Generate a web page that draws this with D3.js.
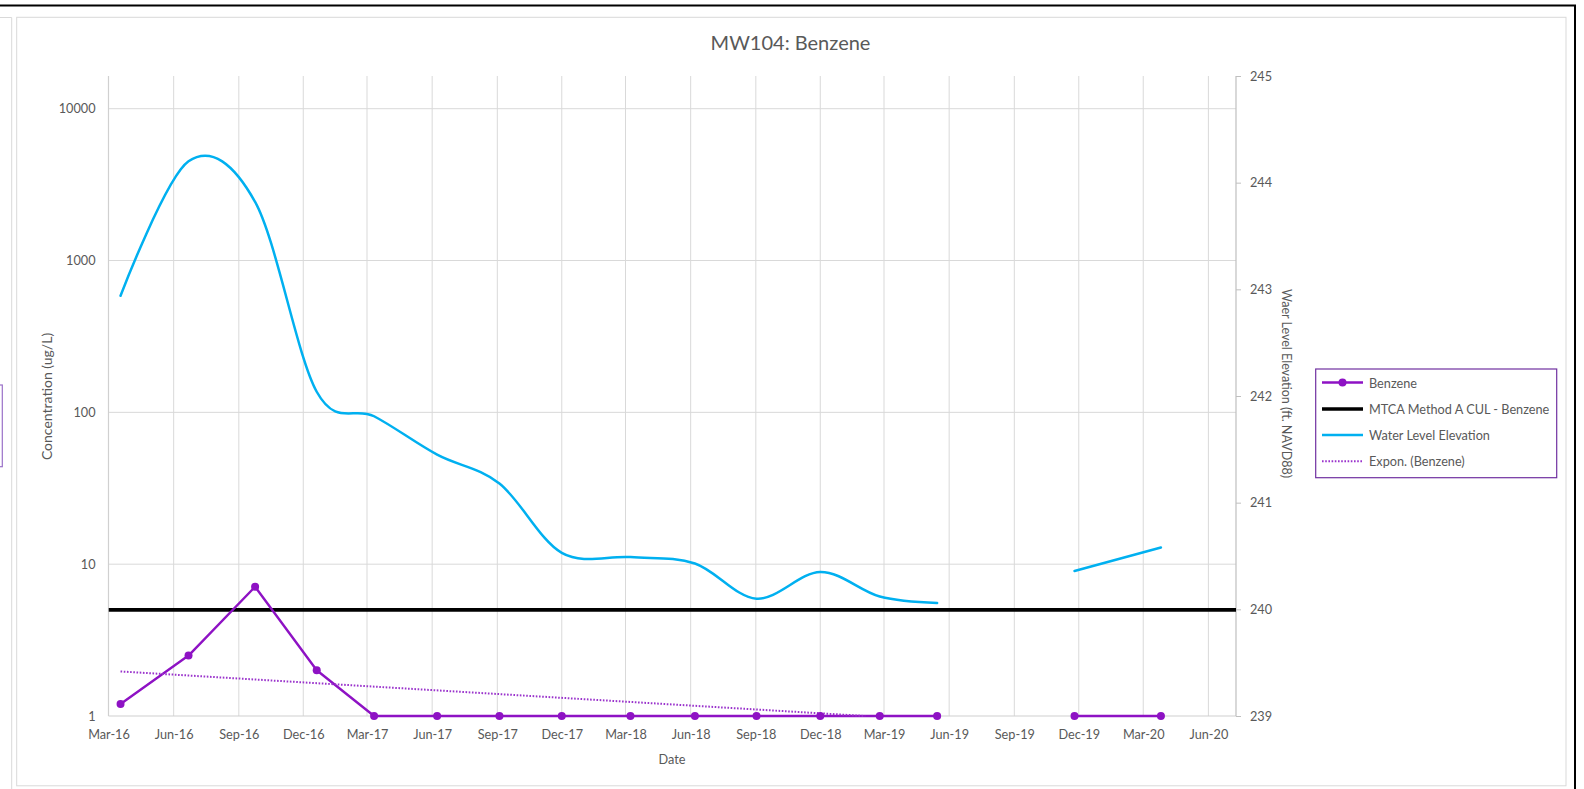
<!DOCTYPE html>
<html>
<head>
<meta charset="utf-8">
<script src="https://cdn.jsdelivr.net/npm/d3@7"></script>
<style>
  html, body { margin: 0; padding: 0; background: #fff; }
  svg { display: block; font-family: Lato, "Open Sans", sans-serif; }
</style>
</head>
<body>
<svg id="chart" width="1584" height="789"></svg>
<script>
// Monitoring well MW104 sampling events (null = no result for that event)
const sampleDates = ["2016-03-18", "2016-06-22", "2016-09-24", "2016-12-20", "2017-03-11",
  "2017-06-08", "2017-09-04", "2017-12-01", "2018-03-08", "2018-06-07", "2018-09-02",
  "2018-12-01", "2019-02-23", "2019-05-15", "2019-08-20", "2019-11-25", "2020-03-26"];
const benzene = [1.2, 2.5, 7.1, 2.0, 1, 1, 1, 1, 1, 1, 1, 1, 1, 1, null, 1, 1];
const waterLevel = [242.94, 244.2, 243.82, 242.04, 241.81, 241.45, 241.18, 240.53, 240.49,
  240.43, 240.10, 240.35, 240.12, 240.06, null, 240.36, 240.58];
const mtcaCul = 5;
const concTicks = [1, 10, 100, 1000, 10000];
const elevTicks = [239, 240, 241, 242, 243, 244, 245];
const seriesNames = ["Benzene", "MTCA Method A CUL - Benzene", "Water Level Elevation", "Expon. (Benzene)"];
const chartTitle = "MW104: Benzene";

const parse = d3.timeParse("%Y-%m-%d");
const rows = sampleDates.map((d, i) => ({ date: parse(d), b: benzene[i], w: waterLevel[i] }));

const C = {
  benzene: "#8e12c4",
  trend: "#9a33cc",
  water: "#00b0f0",
  cul: "#000000",
  grid: "#d9d9d9",
  text: "#595959",
  legendBorder: "#7030a0"
};
const FS = 12.7;

const svg = d3.select("#chart");
const plot = { left: 108.5, right: 1236, top: 76, bottom: 716 };

// outer frames
svg.append("line").attr("x1", 0).attr("x2", 1576).attr("y1", 5.5).attr("y2", 5.5)
  .attr("stroke", "#000").attr("stroke-width", 1.8);
svg.append("line").attr("x1", 1575).attr("x2", 1575).attr("y1", 5).attr("y2", 789)
  .attr("stroke", "#000").attr("stroke-width", 2);
svg.append("path").attr("d", "M0,17.5H11.7V789").attr("fill", "none")
  .attr("stroke", "#d9d9d9").attr("stroke-width", 1);
svg.append("rect").attr("x", -10).attr("y", 385).attr("width", 12.3).attr("height", 81.7)
  .attr("fill", "none").attr("stroke", "#9a70c8").attr("stroke-width", 1.2);
svg.append("rect").attr("x", 16.7).attr("y", 17.3).attr("width", 1549.3).attr("height", 768.5)
  .attr("fill", "#fff").attr("stroke", "#d9d9d9").attr("stroke-width", 1);

// scales
const x = d3.scaleTime()
  .domain([new Date(2016, 2, 1), new Date(2020, 6, 10)])
  .range([plot.left, plot.right]);
const yL = d3.scaleLog().domain([1, 10000]).range([plot.bottom, 108.7]);
const yR = d3.scaleLinear().domain([239, 245]).range([plot.bottom, plot.top]);

const quarterTicks = d3.timeMonths(new Date(2016, 2, 1), new Date(2020, 5, 2), 3);

// gridlines
const grid = svg.append("g");
grid.selectAll(".vg").data(quarterTicks.slice(1)).join("line")
  .attr("x1", d => x(d)).attr("x2", d => x(d))
  .attr("y1", plot.top).attr("y2", plot.bottom)
  .attr("stroke", C.grid).attr("stroke-width", 1);
grid.selectAll(".hg").data(concTicks.slice(1)).join("line")
  .attr("x1", plot.left).attr("x2", plot.right)
  .attr("y1", d => yL(d)).attr("y2", d => yL(d))
  .attr("stroke", C.grid).attr("stroke-width", 1);

// axis lines
svg.append("line").attr("x1", plot.left).attr("x2", plot.left)
  .attr("y1", plot.top).attr("y2", plot.bottom).attr("stroke", "#d0d0d0").attr("stroke-width", 1.2);
svg.append("line").attr("x1", plot.left).attr("x2", plot.right)
  .attr("y1", plot.bottom).attr("y2", plot.bottom).attr("stroke", "#d0d0d0").attr("stroke-width", 1.2);

// axes
const styleAxis = g => {
  g.select(".domain").remove();
  g.selectAll("text").attr("fill", C.text).attr("font-size", FS)
    .attr("font-family", "Lato, 'Open Sans', sans-serif");
};
svg.append("g").attr("transform", `translate(0,${plot.bottom})`)
  .call(d3.axisBottom(x).tickValues(quarterTicks).tickFormat(d3.timeFormat("%b-%y"))
    .tickSize(0).tickPadding(13.5))
  .call(styleAxis);
svg.append("g").attr("transform", `translate(${plot.left},0)`)
  .call(d3.axisLeft(yL).tickValues(concTicks).tickFormat(d3.format("d"))
    .tickSize(0).tickPadding(13))
  .call(styleAxis);
const rAxis = svg.append("g").attr("transform", `translate(${plot.right},0)`)
  .call(d3.axisRight(yR).tickValues(elevTicks).tickFormat(d3.format("d"))
    .tickSize(5).tickPadding(9))
  .call(styleAxis);
rAxis.selectAll(".tick line").attr("stroke", "#bfbfbf");
svg.append("line").attr("x1", plot.right).attr("x2", plot.right)
  .attr("y1", plot.top).attr("y2", plot.bottom).attr("stroke", "#bfbfbf").attr("stroke-width", 1.2);

// clip to plotting area (a little slack below so lines lying on the axis stay whole)
svg.append("clipPath").attr("id", "plotClip").append("rect")
  .attr("x", plot.left).attr("y", plot.top)
  .attr("width", plot.right - plot.left + 6).attr("height", plot.bottom - plot.top + 6);
const marks = svg.append("g").attr("clip-path", "url(#plotClip)");

// cleanup level
marks.append("line")
  .attr("x1", plot.left).attr("x2", plot.right)
  .attr("y1", yL(mtcaCul)).attr("y2", yL(mtcaCul))
  .attr("stroke", C.cul).attr("stroke-width", 3.6);

// exponential trendline of benzene (least squares on ln y), stopped at the axis minimum
const bRows = rows.filter(d => d.b != null);
const t0 = bRows[0].date;
const days = d => (d - t0) / 864e5;
const xs = bRows.map(d => days(d.date));
const ls = bRows.map(d => Math.log(d.b));
const mx = d3.mean(xs), ml = d3.mean(ls);
const slope = d3.sum(xs, (v, i) => (v - mx) * (ls[i] - ml)) / d3.sum(xs, v => (v - mx) ** 2);
const icpt = ml - slope * mx;
const lastDay = days(bRows[bRows.length - 1].date);
const endDay = slope < 0 ? Math.min(lastDay, -icpt / slope) : lastDay;
const trendPts = [0, endDay].map(dd => ({
  date: new Date(+t0 + dd * 864e5), v: Math.exp(icpt + slope * dd)
}));

// benzene concentrations
marks.append("path")
  .datum(rows)
  .attr("d", d3.line().defined(d => d.b != null).x(d => x(d.date)).y(d => yL(d.b)))
  .attr("fill", "none").attr("stroke", C.benzene).attr("stroke-width", 2.4)
  .attr("stroke-linejoin", "round");

marks.append("path")
  .datum(trendPts)
  .attr("d", d3.line().x(d => x(d.date)).y(d => yL(d.v)))
  .attr("fill", "none").attr("stroke", C.trend).attr("stroke-width", 2)
  .attr("stroke-dasharray", "1.6 1.6");

marks.selectAll(".bpt").data(bRows).join("circle")
  .attr("cx", d => x(d.date)).attr("cy", d => yL(d.b)).attr("r", 4)
  .attr("fill", C.benzene);

// water level elevation (secondary axis)
marks.append("path")
  .datum(rows)
  .attr("d", d3.line().defined(d => d.w != null).x(d => x(d.date)).y(d => yR(d.w))
    .curve(d3.curveCardinal.tension(0)))
  .attr("fill", "none").attr("stroke", C.water).attr("stroke-width", 2.5)
  .attr("stroke-linejoin", "round").attr("stroke-linecap", "round");

// titles
svg.append("text").attr("x", 790.5).attr("y", 50).attr("text-anchor", "middle")
  .attr("font-size", 20).attr("fill", C.text).text(chartTitle);
svg.append("text").attr("x", 672).attr("y", 759).attr("text-anchor", "middle")
  .attr("dominant-baseline", "central").attr("font-size", FS).attr("fill", C.text).text("Date");
svg.append("text").attr("transform", "translate(46.7,396.5) rotate(-90)")
  .attr("text-anchor", "middle").attr("dominant-baseline", "central")
  .attr("font-size", 14).attr("fill", C.text).text("Concentration (ug/L)");
svg.append("text").attr("transform", "translate(1286,383.5) rotate(90)")
  .attr("text-anchor", "middle").attr("dominant-baseline", "central")
  .attr("font-size", 12.5).attr("fill", C.text).text("Waer Level Elevation (ft. NAVD88)");

// legend
const lg = svg.append("g");
lg.append("rect").attr("x", 1315.7).attr("y", 369).attr("width", 241).attr("height", 108.7)
  .attr("fill", "#fff").attr("stroke", C.legendBorder).attr("stroke-width", 1.2);
const legendY = [382.5, 409, 435, 461.3];
const legendStyle = [
  { stroke: C.benzene, w: 2.4, dash: null, dot: true },
  { stroke: C.cul, w: 3.6, dash: null, dot: false },
  { stroke: C.water, w: 2.5, dash: null, dot: false },
  { stroke: C.trend, w: 2, dash: "1.6 1.6", dot: false }
];
seriesNames.forEach((name, i) => {
  const s = legendStyle[i];
  const y = legendY[i];
  lg.append("line").attr("x1", 1322).attr("x2", 1363).attr("y1", y).attr("y2", y)
    .attr("stroke", s.stroke).attr("stroke-width", s.w)
    .attr("stroke-dasharray", s.dash);
  if (s.dot) lg.append("circle").attr("cx", 1342.5).attr("cy", y).attr("r", 4).attr("fill", s.stroke);
  lg.append("text").attr("x", 1369).attr("y", y).attr("dominant-baseline", "central")
    .attr("font-size", FS).attr("fill", C.text).text(name);
});
</script>
</body>
</html>
